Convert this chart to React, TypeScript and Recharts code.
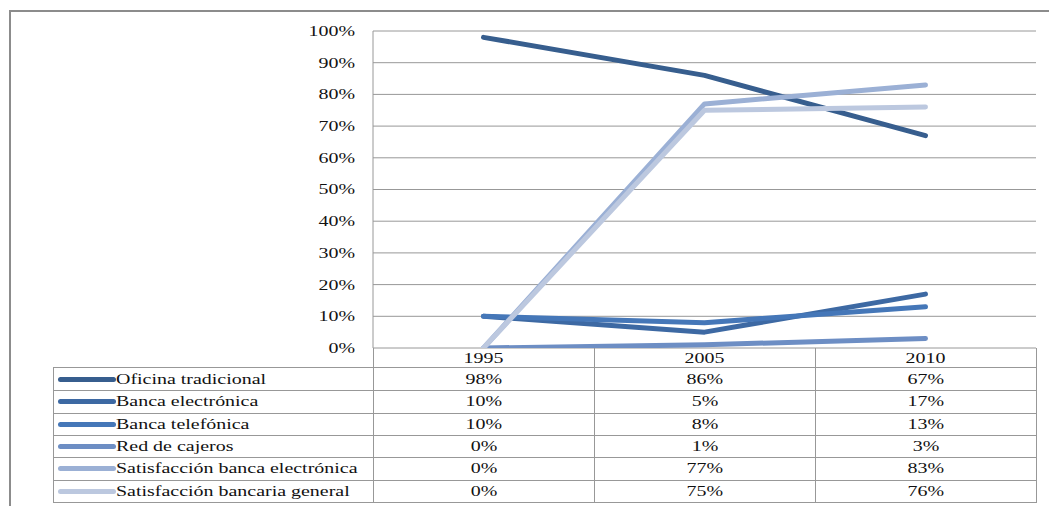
import React from "react";
import { LineChart, Line, XAxis, YAxis, CartesianGrid } from "recharts";

const years = ["1995", "2005", "2010"];
const oficinaTradicional = [98, 86, 67];
const bancaElectronica = [10, 5, 17];
const bancaTelefonica = [10, 8, 13];
const redCajeros = [0, 1, 3];
const satisfaccionElectronica = [0, 77, 83];
const satisfaccionGeneral = [0, 75, 76];
const percentTicks = [0, 10, 20, 30, 40, 50, 60, 70, 80, 90, 100];

const series = [
  { key: "oficina", name: "Oficina tradicional", values: oficinaTradicional, color: "#375E8E" },
  { key: "electronica", name: "Banca electrónica", values: bancaElectronica, color: "#3D69A3" },
  { key: "telefonica", name: "Banca telefónica", values: bancaTelefonica, color: "#4577B8" },
  { key: "cajeros", name: "Red de cajeros", values: redCajeros, color: "#6D8EC4" },
  { key: "satElectronica", name: "Satisfacción banca electrónica", values: satisfaccionElectronica, color: "#9BB0D5" },
  { key: "satGeneral", name: "Satisfacción bancaria general", values: satisfaccionGeneral, color: "#BCC8DF" },
];

const data = years.map((year, i) => {
  const row: Record<string, string | number> = { year };
  series.forEach((s) => {
    row[s.key] = s.values[i];
  });
  return row;
});

// layout of the plot box and the data table under it
const W = 1049;
const H = 506;
const PLOT_LEFT = 373;
const PLOT_TOP = 31;
const PLOT_RIGHT = 1036;
const PLOT_BOTTOM = 348;
const Y_AXIS_W = 70;
const X_AXIS_H = 20;
const TABLE_LEFT = 53;
const HEADER_BOTTOM = 367;
const TABLE_BOTTOM = 503;

const halfBand = (PLOT_RIGHT - PLOT_LEFT) / years.length / 2;
const FONT = "Liberation Serif, Tinos, Times New Roman, DejaVu Serif, serif";
const STRETCH = 1.33;
const GRID = "#989898";
const TEXT = "#111";

function YTick({ x, y, payload }: any) {
  return (
    <text
      x={x}
      y={y + 5}
      textAnchor="end"
      fill={TEXT}
      style={{ fontFamily: FONT, fontSize: 15 }}
      transform={`translate(${x} 0) scale(${STRETCH} 1) translate(${-x} 0)`}
    >
      {payload.value}%
    </text>
  );
}

function XTick({ x, y, payload }: any) {
  return (
    <text
      x={x}
      y={y + 15}
      textAnchor="middle"
      fill={TEXT}
      style={{ fontFamily: FONT, fontSize: 15 }}
      transform={`translate(${x} 0) scale(${STRETCH} 1) translate(${-x} 0)`}
    >
      {payload.value}
    </text>
  );
}

const stretched = (origin: string): React.CSSProperties => ({
  display: "inline-block",
  transform: `scaleX(${STRETCH})`,
  transformOrigin: origin,
  whiteSpace: "nowrap",
});

function DataTable() {
  const rowH = (TABLE_BOTTOM - HEADER_BOTTOM - 2) / series.length;
  return (
    <>
      {/* column dividers under the category labels */}
      <div
        style={{
          position: "absolute",
          left: PLOT_LEFT,
          top: PLOT_BOTTOM,
          width: PLOT_RIGHT - PLOT_LEFT + 1,
          height: HEADER_BOTTOM - PLOT_BOTTOM,
          display: "flex",
          boxSizing: "border-box",
          borderLeft: `1px solid ${GRID}`,
        }}
      >
        {years.map((y) => (
          <div key={y} style={{ flex: 1, borderRight: `1px solid ${GRID}` }} />
        ))}
      </div>
      <div
        style={{
          position: "absolute",
          left: TABLE_LEFT,
          top: HEADER_BOTTOM,
          width: PLOT_RIGHT - TABLE_LEFT + 1,
          height: TABLE_BOTTOM - HEADER_BOTTOM,
          boxSizing: "border-box",
          border: `1px solid ${GRID}`,
          fontFamily: FONT,
          fontSize: 15,
          color: TEXT,
        }}
      >
        {series.map((s, r) => (
          <div
            key={s.key}
            style={{
              display: "flex",
              height: rowH,
              boxSizing: "border-box",
              borderTop: r === 0 ? "none" : `1px solid ${GRID}`,
            }}
          >
            <div
              style={{
                width: PLOT_LEFT - TABLE_LEFT,
                boxSizing: "border-box",
                borderRight: `1px solid ${GRID}`,
                display: "flex",
                alignItems: "center",
                paddingLeft: 4,
              }}
            >
              <span
                style={{
                  width: 58,
                  height: 5,
                  borderRadius: 3,
                  background: s.color,
                  flexShrink: 0,
                }}
              />
              <span style={stretched("left center")}>{s.name}</span>
            </div>
            {s.values.map((v, i) => (
              <div
                key={years[i]}
                style={{
                  flex: 1,
                  boxSizing: "border-box",
                  borderRight: i < s.values.length - 1 ? `1px solid ${GRID}` : "none",
                  display: "flex",
                  alignItems: "center",
                  justifyContent: "center",
                }}
              >
                <span style={stretched("center center")}>{v}%</span>
              </div>
            ))}
          </div>
        ))}
      </div>
    </>
  );
}

export default function App() {
  return (
    <div
      style={{
        position: "absolute",
        left: 0,
        top: 0,
        width: W,
        height: H,
        overflow: "hidden",
        background: "#fff",
      }}
    >
      {/* outer frame, open to the right and bottom */}
      <div
        style={{
          position: "absolute",
          left: 9,
          top: 10,
          width: W + 20,
          height: H + 20,
          borderTop: "2px solid #8c8c8c",
          borderLeft: "2px solid #8c8c8c",
        }}
      />
      <div style={{ position: "absolute", left: 0, top: 0 }}>
        <LineChart
          width={W}
          height={H}
          data={data}
          margin={{
            top: PLOT_TOP,
            right: W - PLOT_RIGHT,
            left: PLOT_LEFT - Y_AXIS_W,
            bottom: H - PLOT_BOTTOM - X_AXIS_H,
          }}
        >
          <CartesianGrid vertical={false} stroke={GRID} />
          <XAxis
            dataKey="year"
            scale="point"
            padding={{ left: halfBand, right: halfBand }}
            height={X_AXIS_H}
            axisLine={false}
            tickLine={false}
            tickSize={0}
            tickMargin={0}
            tick={<XTick />}
            interval={0}
          />
          <YAxis
            width={Y_AXIS_W}
            domain={[0, 100]}
            ticks={percentTicks}
            allowDataOverflow
            axisLine={{ stroke: GRID }}
            tickLine={false}
            tickSize={0}
            tickMargin={18}
            tick={<YTick />}
            interval={0}
          />
          {series.map((s) => (
            <Line
              key={s.key}
              type="linear"
              dataKey={s.key}
              name={s.name}
              stroke={s.color}
              strokeWidth={5}
              strokeLinecap="round"
              strokeLinejoin="round"
              dot={false}
              activeDot={false}
              isAnimationActive={false}
            />
          ))}
        </LineChart>
      </div>
      <DataTable />
    </div>
  );
}
